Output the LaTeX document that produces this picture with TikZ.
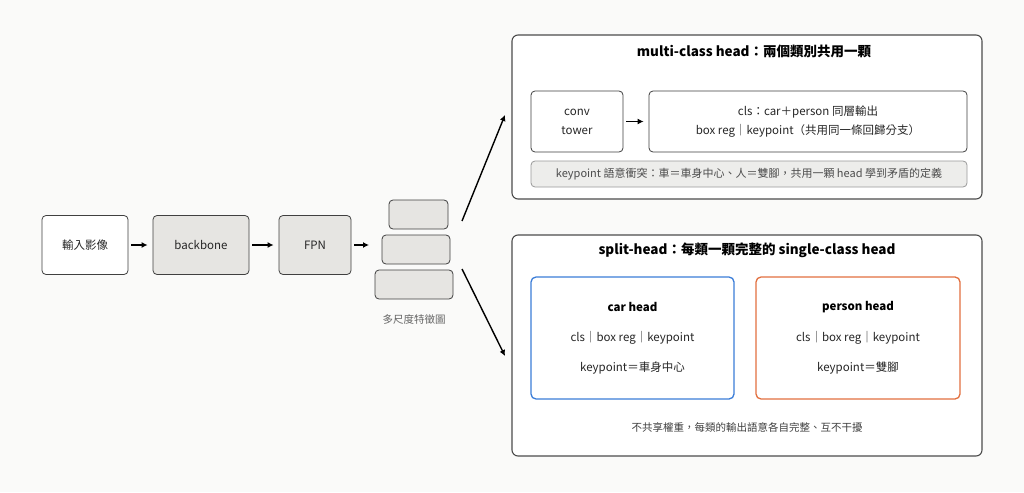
\documentclass[tikz,border=0pt]{standalone}
\usepackage{fontspec}
\setmainfont{Noto Sans CJK TC}
\usetikzlibrary{arrows.meta}
\definecolor{bgc}{HTML}{FAFAF9}
\definecolor{boxgray}{HTML}{E6E5E2}
\definecolor{carblue}{HTML}{3B7DD8}
\definecolor{perorange}{HTML}{E2703F}
\tikzset{
  blk/.style={draw=black!75, rounded corners=4pt, line width=0.8pt, font=\fontsize{11.5}{14}\selectfont, text=black!85},
  gblk/.style={blk, fill=boxgray},
  wblk/.style={blk, fill=white},
  panel/.style={draw=black!70, rounded corners=6pt, line width=1.1pt, fill=white},
  flow/.style={-{Latex[length=6pt,width=6pt]}, line width=1.4pt, shorten <=3pt, shorten >=5pt},
  ttl/.style={font=\bfseries\fontsize{13.5}{16}\selectfont},
  txt/.style={font=\fontsize{11.5}{14}\selectfont, text=black!85},
}
\begin{document}
\begin{tikzpicture}[x=1pt,y=-1pt]
\fill[bgc] (0,0) rectangle (1024,492);
\useasboundingbox (0,0) rectangle (1024,492);
% backbone pipeline
\node[wblk, minimum width=86pt, minimum height=59pt] (img) at (85,245) {輸入影像};
\node[gblk, minimum width=96pt, minimum height=59pt] (bb) at (201,245) {backbone};
\node[gblk, minimum width=72pt, minimum height=59pt] (fpn) at (315,245) {FPN};
\coordinate (fin) at (374,245);
\node[gblk, minimum width=59pt, minimum height=29pt] (f1) at (418.5,214.5) {};
\node[gblk, minimum width=68pt, minimum height=29pt] (f2) at (416,249.5) {};
\node[gblk, minimum width=78pt, minimum height=29pt] (f3) at (414,284.5) {};
\node[txt, text=black!60, font=\fontsize{10.5}{13}\selectfont] (flbl) at (414,319) {多尺度特徵圖};
\draw[flow] (img) -- (bb);
\draw[flow] (bb) -- (fpn);
\draw[flow] (fpn) -- (fin);
\coordinate (up0) at (462,221); \coordinate (up1) at (505,115);
\coordinate (dn0) at (462,269); \coordinate (dn1) at (505,356);
\draw[flow, shorten <=0pt, shorten >=0pt] (up0) -- (up1);
\draw[flow, shorten <=0pt, shorten >=0pt] (dn0) -- (dn1);
% multi-class head
\node[panel, minimum width=470pt, minimum height=164pt] (mc) at (747,117) {};
\node[ttl] (mct) at (754,51) {multi-class head：兩個類別共用一顆};
\node[wblk, minimum width=92pt, minimum height=61pt, align=center] (conv) at (577,121.5) {conv\\[5pt]tower};
\node[wblk, minimum width=318pt, minimum height=61pt, align=center] (out) at (808,121.5) {cls：car＋person 同層輸出\\[5pt]box reg｜keypoint（共用同一條回歸分支）};
\draw[flow] (conv) -- (out);
\node[blk, draw=black!40, fill=boxgray!70, minimum width=436pt, minimum height=26pt, text=black!70, font=\fontsize{11}{13}\selectfont] (warn) at (749,174) {keypoint 語意衝突：車＝車身中心、人＝雙腳，共用一顆 head 學到矛盾的定義};
% split head
\node[panel, minimum width=470pt, minimum height=221pt] (sp) at (747,345.5) {};
\node[ttl] (spt) at (747,250) {split-head：每類一顆完整的 single-class head};
\node[draw=carblue, rounded corners=5pt, line width=1.3pt, fill=white, minimum width=203pt, minimum height=122pt] (car) at (632.5,338) {};
\node[draw=perorange, rounded corners=5pt, line width=1.3pt, fill=white, minimum width=204pt, minimum height=122pt] (per) at (858,338) {};
\node[ttl, font=\bfseries\fontsize{11.5}{14}\selectfont] (cart) at (632.5,307) {car head};
\node[txt] (carb) at (632.5,338) {cls｜box reg｜keypoint};
\node[txt] (cark) at (632.5,368) {keypoint＝車身中心};
\node[ttl, font=\bfseries\fontsize{11.5}{14}\selectfont] (pert) at (858,307) {person head};
\node[txt] (perb) at (858,338) {cls｜box reg｜keypoint};
\node[txt] (perk) at (858,368) {keypoint＝雙腳};
\node[txt, font=\fontsize{10.5}{13}\selectfont, text=black!75] (note) at (747,427) {不共享權重，每類的輸出語意各自完整、互不干擾};
\end{tikzpicture}
\end{document}
